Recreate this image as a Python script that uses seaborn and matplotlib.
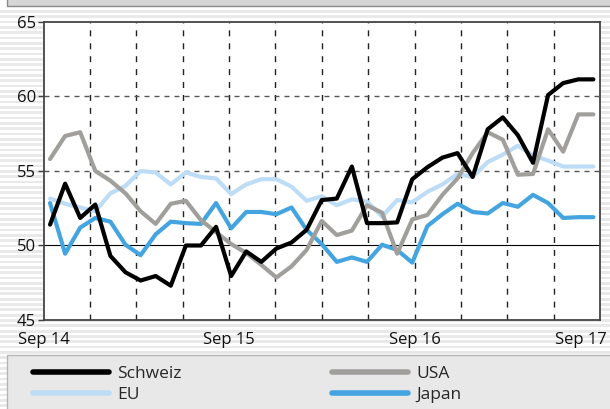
import numpy as np
import pandas as pd
import matplotlib
matplotlib.use("Agg")
import matplotlib.pyplot as plt
from matplotlib.patches import Rectangle
from matplotlib.transforms import ScaledTranslation
import seaborn as sns

# ---- data (monthly, Sep 14 .. Sep 17) ----
schweiz = [51.4, 54.15, 51.85, 52.75, 49.3, 48.2, 47.65, 47.95, 47.3, 50.0,
           50.0, 51.25, 47.95, 49.6, 48.9, 49.8, 50.2, 51.05, 53.05,
           53.15, 55.3, 51.5, 51.5, 51.55, 54.45, 55.25, 55.9, 56.2,
           54.6, 57.8, 58.6, 57.4, 55.55, 60.1, 60.9, 61.15, 61.15]
usa = [55.8, 57.35, 57.6, 55.0, 54.35, 53.5, 52.3, 51.45, 52.8, 53.0,
       51.7, 50.9, 50.1, 49.5, 48.7, 47.85, 48.6, 49.7, 51.65,
       50.7, 51.0, 52.7, 52.2, 49.45, 51.75, 52.05, 53.4, 54.5,
       56.2, 57.6, 57.1, 54.75, 54.8, 57.8, 56.3, 58.8, 58.8]
eu = [53.15, 52.8, 52.55, 52.3, 53.5, 54.0, 55.0, 54.9, 54.1, 54.9,
      54.6, 54.5, 53.45, 54.1, 54.45, 54.45, 53.95, 53.0, 53.3,
      52.7, 53.1, 52.95, 51.95, 53.05, 52.9, 53.6, 54.1, 54.8,
      54.6, 55.6, 56.1, 56.7, 56.05, 55.7, 55.3, 55.3, 55.3]
japan = [52.85, 49.45, 51.2, 51.85, 51.6, 50.05, 49.35, 50.75, 51.6, 51.5,
         51.45, 52.85, 51.15, 52.25, 52.25, 52.1, 52.55, 51.05, 50.1,
         48.9, 49.2, 48.9, 50.05, 49.7, 48.85, 51.3, 52.1, 52.8,
         52.25, 52.15, 52.85, 52.6, 53.4, 52.85, 51.85, 51.9, 51.9]
series_names = ["EU", "Japan", "USA", "Schweiz"]
series_values = [eu, japan, usa, schweiz]
colors = {"Schweiz": "#000000", "USA": "#a09f9b", "EU": "#bddcf5", "Japan": "#44a4e0"}
xtick_labels = ["Sep 14", "Sep 15", "Sep 16", "Sep 17"]
yticks = [45, 50, 55, 60, 65]

n = len(schweiz)
xpos = np.linspace(0.41, 35.57, n)
df = pd.concat([pd.DataFrame({"x": xpos, "v": vals, "s": name})
                for name, vals in zip(series_names, series_values)])

sns.set_style("white")
plt.rcParams["font.family"] = ["Open Sans", "DejaVu Sans"]

W, H = 610, 409
fig = plt.figure(figsize=(W / 100, H / 100), dpi=100)

# striped background
bg = fig.add_axes([0, 0, 1, 1], zorder=-10)
bg.set_xlim(0, W)
bg.set_ylim(H, 0)
bg.axis("off")
for y in np.arange(10, H, 5.33):
    bg.add_patch(Rectangle((0, y), W, 2.7, color="#e9e9e9", lw=0))
# top band
bg.add_patch(Rectangle((7, -5), W, 10.5, facecolor="#d6d6d6", edgecolor="#8a8a8a", lw=1))
# legend box
bg.add_patch(Rectangle((7, 355), W, 60, facecolor="#e8e8e8", edgecolor="#b5b5b5", lw=1))

ax = fig.add_axes([43.7 / W, (H - 320) / H, (600 - 43.7) / W, (320 - 22) / H])
ax.set_facecolor("white")

sns.lineplot(data=df, x="x", y="v", hue="s", palette=colors, hue_order=series_names,
             ax=ax, linewidth=3.0, legend=False, sort=False)

ax.set_xlim(0, 36)
ax.set_ylim(45, 65)
ax.set_xticks([0, 12, 24, 36])
ax.set_xticklabels(xtick_labels)
ax.set_yticks(yticks)
ax.set_xlabel("")
ax.set_ylabel("")

for x in range(3, 36, 3):
    ax.axvline(x, color="#222222", lw=1.0, ls=(0, (4.3, 5.0)), zorder=0.5)
for y in [55, 60]:
    ax.axhline(y, color="#555555", lw=1.0, ls=(0, (3.6, 3.6)), zorder=0.5)
ax.axhline(50, color="#000000", lw=0.8, zorder=0.5)

for sp in ax.spines.values():
    sp.set_color("#444444")
    sp.set_linewidth(1.3)
    sp.set_visible(True)

ax.tick_params(axis="y", length=4, width=1, color="#444444", pad=1.5,
               labelsize=12, labelcolor="#111111", left=True)
ax.tick_params(axis="x", length=0, pad=9, labelsize=12, labelcolor="#111111")

lbls = ax.get_xticklabels()
lbls[-1].set_horizontalalignment("right")
lbls[-1].set_transform(lbls[-1].get_transform() + ScaledTranslation(0.07, 0, fig.dpi_scale_trans))

# legends
handles = {name: plt.Line2D([], [], color=colors[name], lw=4) for name in series_names}
leg_kw = dict(frameon=False, fontsize=12.5, handlelength=4.4, handletextpad=0.45,
              labelspacing=0.25, borderpad=0, borderaxespad=0, loc="upper left")
l1 = fig.legend([handles["Schweiz"], handles["EU"]], ["Schweiz", "EU"],
                bbox_to_anchor=(33 / W, (H - 366) / H), **leg_kw)
l2 = fig.legend([handles["USA"], handles["Japan"]], ["USA", "Japan"],
                bbox_to_anchor=(332 / W, (H - 366) / H), **leg_kw)

fig.savefig("out.png", dpi=100)
